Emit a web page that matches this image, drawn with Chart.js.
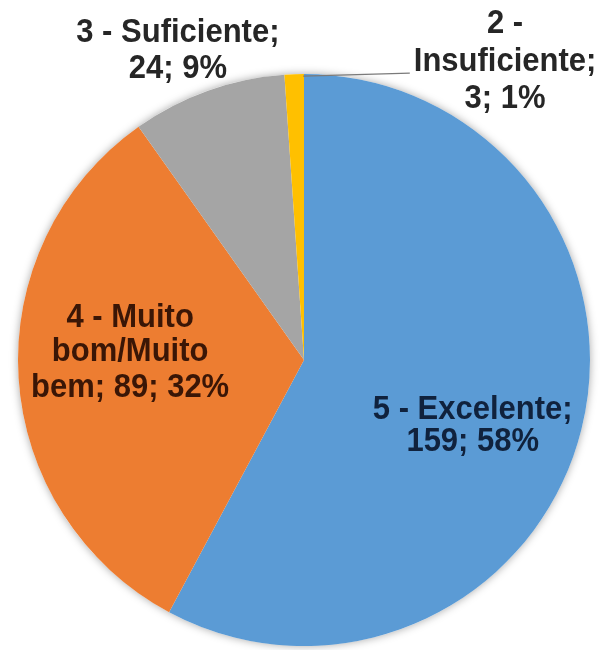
<!DOCTYPE html>
<html>
<head>
<meta charset="utf-8">
<script src="https://cdn.jsdelivr.net/npm/chart.js@4.4.0/dist/chart.umd.min.js"></script>
<style>
	html, body { margin: 0; padding: 0; background: #fff; }
	#wrap { width: 602px; height: 650px; position: relative; }
</style>
</head>
<body>
<div id="wrap"><canvas id="myChart"></canvas></div>
<script>
// Chart data
const categories = ["5 - Excelente", "4 - Muito bom/Muito bem", "3 - Suficiente", "2 - Insuficiente"];
const counts = [159, 89, 24, 3];
const colors = ["#5B9BD5", "#ED7D31", "#A5A5A5", "#FFC000"];
const textColors = ["#10223d", "#3a1606", "#262626", "#262626"];

const total = counts.reduce((a, b) => a + b, 0);
const percents = counts.map((v) => Math.round((v / total) * 100) + "%");

// how each label wraps (built from the data above)
const labelLines = [
	[categories[0] + ";", counts[0] + "; " + percents[0]],
	["4 - Muito", "bom/Muito", "bem; " + counts[1] + "; " + percents[1]],
	[categories[2] + ";", counts[2] + "; " + percents[2]],
	["2 -", "Insuficiente;", counts[3] + "; " + percents[3]],
];

// label placement relative to pie centre, in units of radius (dx, dy per line)
const labelPlace = [
	{ lines: [[0.59, 0.175], [0.59, 0.285]] },
	{ lines: [[-0.608, -0.147], [-0.608, -0.028], [-0.608, 0.098]] },
	{ lines: [[-0.441, -1.143], [-0.441, -1.02]] },
	{ lines: [[0.703, -1.176], [0.703, -1.043], [0.703, -0.913]] },
];

const pieShadow = {
	id: "pieShadow",
	beforeDatasetsDraw(chart) {
		const arc = chart.getDatasetMeta(0).data[0];
		const ctx = chart.ctx;
		ctx.save();
		ctx.beginPath();
		ctx.arc(arc.x, arc.y, arc.outerRadius, 0, Math.PI * 2);
		ctx.fillStyle = "#fff";
		ctx.shadowColor = "rgba(0,0,0,0.35)";
		ctx.shadowBlur = 8;
		ctx.fill();
		ctx.restore();
	},
};

const pieLabels = {
	id: "pieLabels",
	afterDatasetsDraw(chart) {
		const meta = chart.getDatasetMeta(0);
		const ctx = chart.ctx;
		const cx = meta.data[0].x;
		const cy = meta.data[0].y;
		const r = meta.data[0].outerRadius;

		// leader line for the small slice
		const small = meta.data[3];
		const a = (small.startAngle + small.endAngle) / 2;
		ctx.save();
		ctx.strokeStyle = "#7a7a7a";
		ctx.lineWidth = 1.3;
		ctx.beginPath();
		ctx.moveTo(cx + Math.cos(a) * r + 9, cy + Math.sin(a) * r + 2);
		ctx.lineTo(cx + 0.37 * r, cy - 1.003 * r);
		ctx.stroke();

		ctx.font = "bold 31px 'Liberation Sans', Arial, sans-serif";
		ctx.textAlign = "center";
		ctx.textBaseline = "middle";
		labelLines.forEach((lines, i) => {
			ctx.fillStyle = textColors[i];
			lines.forEach((txt, j) => {
				const p = labelPlace[i].lines[j];
				ctx.save();
				ctx.translate(cx + p[0] * r, cy + p[1] * r);
				ctx.scale(1, 1.08);
				ctx.fillText(txt, 0, 0);
				ctx.restore();
			});
		});
		ctx.restore();
	},
};

const data = {
	labels: categories,
	datasets: [
		{
			data: counts,
			backgroundColor: colors,
			borderWidth: 0,
		},
	],
};

const config = {
	type: "pie",
	data: data,
	options: {
		responsive: true,
		maintainAspectRatio: false,
		animation: false,
		layout: {
			padding: { left: 18, right: 12, top: 74, bottom: 4 },
		},
		plugins: {
			legend: { display: false },
			tooltip: { enabled: false },
		},
	},
	plugins: [pieShadow, pieLabels],
};

var myChart = new Chart(document.getElementById("myChart"), config);
</script>
</body>
</html>
